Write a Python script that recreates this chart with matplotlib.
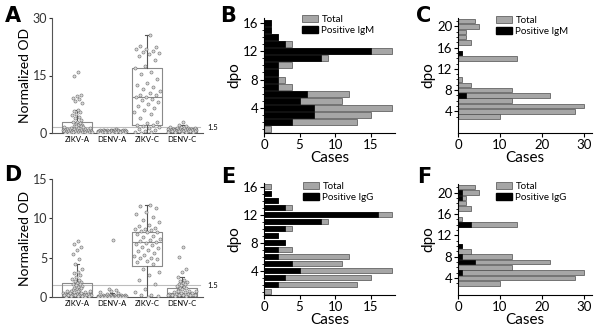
import numpy as np
import matplotlib
matplotlib.use("Agg")
import matplotlib.pyplot as plt
from matplotlib.patches import Patch

plt.rcParams['font.family'] = ['Lato', 'DejaVu Sans']

# Box/scatter panels (A: IgM, D: IgG)
GROUPS = ["ZIKV-A", "DENV-A", "ZIKV-C", "DENV-C"]

zikv_a_igm = [16.0, 15.0, 10.0, 9.6, 9.2, 8.8, 8.3, 7.8, 6.0, 5.8, 5.5, 5.0, 4.6, 4.2,
              3.8, 3.4, 3.0, 2.8, 2.6, 2.4, 2.2, 2.0, 1.9, 1.8, 1.7, 1.6, 1.5, 1.4, 1.3,
              1.2, 1.1, 1.0, 1.0, 0.9, 0.9, 0.8, 0.8, 0.7, 0.7, 0.6, 0.6, 0.5, 0.5, 0.5,
              0.4, 0.4, 0.4, 0.3, 0.3, 0.3, 0.3, 0.2, 0.2, 0.2, 0.2, 0.1, 0.1, 0.1, 0.1, 0.0]
denv_a_igm = [1.0, 0.9, 0.9, 0.8, 0.8, 0.8, 0.7, 0.7, 0.7, 0.7, 0.6, 0.6, 0.6, 0.6, 0.6,
              0.5, 0.5, 0.5, 0.5, 0.5, 0.5, 0.4, 0.4, 0.4, 0.4, 0.4, 0.4, 0.3, 0.3, 0.3,
              0.3, 0.3, 0.2, 0.2, 0.2, 0.2, 0.1, 0.1, 0.1]
zikv_c_igm = [25.5, 22.8, 22.5, 22.0, 21.8, 21.5, 21.2, 21.0, 20.5, 20.0, 19.0, 17.5,
              17.0, 16.0, 15.5, 14.0, 13.0, 12.5, 12.0, 11.5, 11.0, 10.5, 10.0, 9.8, 9.5,
              9.3, 9.0, 8.5, 8.0, 7.5, 7.0, 6.5, 6.0, 5.5, 5.0, 4.0, 3.0, 2.5, 2.2, 2.0,
              1.8, 1.5, 1.2, 1.0, 0.8, 0.5, 0.3, 0.2, 0.1]
denv_c_igm = [3.0, 2.0, 1.8, 1.6, 1.5, 1.4, 1.3, 1.2, 1.2, 1.1, 1.1, 1.0, 1.0, 1.0, 0.9,
              0.9, 0.9, 0.8, 0.8, 0.8, 0.8, 0.7, 0.7, 0.7, 0.6, 0.6, 0.6, 0.5, 0.5, 0.5,
              0.4, 0.4, 0.4, 0.3, 0.3, 0.2, 0.2, 0.1]

zikv_a_igg = [7.1, 6.8, 6.3, 6.0, 5.5, 4.8, 4.2, 3.6, 3.2, 3.0, 2.8, 2.5, 2.3, 2.1, 2.0,
              1.9, 1.8, 1.7, 1.6, 1.5, 1.4, 1.3, 1.2, 1.1, 1.0, 0.9, 0.9, 0.8, 0.8, 0.7,
              0.7, 0.6, 0.6, 0.5, 0.5, 0.5, 0.4, 0.4, 0.4, 0.3, 0.3, 0.3, 0.3, 0.2, 0.2,
              0.2, 0.2, 0.1, 0.1, 0.1, 0.1, 0.0, 0.0]
denv_a_igg = [7.2, 1.0, 0.9, 0.7, 0.6, 0.5, 0.4, 0.3, 0.3, 0.2, 0.2, 0.2, 0.15, 0.15,
              0.15, 0.12, 0.12, 0.12, 0.1, 0.1, 0.1, 0.1, 0.1, 0.1, 0.08, 0.08, 0.08,
              0.08, 0.06, 0.06, 0.06, 0.05, 0.05, 0.05, 0.04, 0.04, 0.03, 0.02]
zikv_c_igg = [11.7, 11.6, 11.3, 10.8, 10.5, 10.2, 9.8, 9.5, 9.2, 9.0, 8.8, 8.7, 8.6, 8.5,
              8.4, 8.3, 8.2, 8.0, 7.8, 7.6, 7.4, 7.2, 7.1, 7.0, 6.9, 6.8, 6.6, 6.4, 6.2,
              6.0, 5.8, 5.6, 5.4, 5.2, 5.0, 5.0, 4.8, 4.6, 4.5, 4.2, 3.5, 3.2, 2.8, 2.2,
              1.6, 1.0, 0.6, 0.3, 0.2, 0.1, 0.0]
denv_c_igg = [6.3, 5.1, 3.6, 3.2, 2.5, 2.1, 2.0, 1.9, 1.8, 1.7, 1.6, 1.5, 1.4, 1.3, 1.2,
              1.1, 1.0, 0.9, 0.8, 0.8, 0.7, 0.6, 0.6, 0.5, 0.5, 0.4, 0.4, 0.4, 0.3, 0.3,
              0.3, 0.2, 0.2, 0.2, 0.1, 0.1]

# box stats: q1, median, q3, whisker low, whisker high
igm_q1 = [0.3, 0.2, 2.0, 0.2]
igm_med = [0.9, 0.5, 9.3, 0.6]
igm_q3 = [2.8, 0.8, 17.0, 1.2]
igm_lo = [0.0, 0.1, 0.1, 0.1]
igm_hi = [6.0, 1.0, 25.5, 2.0]

igg_q1 = [0.1, 0.05, 3.9, 0.1]
igg_med = [0.5, 0.1, 7.0, 0.5]
igg_q3 = [1.8, 0.2, 8.3, 1.2]
igg_lo = [0.0, 0.02, 0.0, 0.1]
igg_hi = [4.2, 0.5, 11.7, 2.5]

CUTOFF = 1.5

# Bar panels: cases per dpo
dpo_bd = list(range(1, 17))
total_b = [1, 13, 15, 18, 11, 12, 4, 3, 2, 4, 9, 18, 4, 2, 1, 1]
igm_b = [0, 4, 7, 7, 5, 6, 2, 2, 2, 2, 8, 15, 3, 2, 1, 1]
total_e = [1, 13, 15, 18, 11, 12, 4, 3, 2, 4, 9, 18, 4, 2, 1, 1]
igg_e = [0, 2, 3, 5, 4, 2, 2, 3, 2, 3, 8, 16, 3, 2, 1, 0]

dpo_cf = list(range(3, 22))
total_c = [10, 28, 30, 13, 22, 13, 3, 1, 0, 0, 0, 14, 1, 0, 3, 2, 2, 5, 4]
igm_c = [0, 0, 0, 0, 2, 0, 0, 0, 0, 0, 0, 0, 1, 0, 0, 0, 0, 0, 0]
total_f = [10, 28, 30, 13, 22, 13, 3, 1, 0, 0, 0, 14, 1, 0, 3, 2, 2, 5, 4]
igg_f = [0, 0, 1, 0, 4, 1, 0, 1, 0, 0, 0, 3, 0, 0, 0, 0, 1, 1, 0]

W, H = 600, 333
fig = plt.figure(figsize=(6, 3.33), dpi=100)


def ax_px(left, top, right, bottom):
    return fig.add_axes([left / W, 1 - bottom / H, (right - left) / W, (bottom - top) / H])


def scatter_panel(ax, groups, q1, med, q3, lo, hi, ymax, yticks):
    stats = []
    for i in range(4):
        stats.append(dict(q1=q1[i], med=med[i], q3=q3[i], whislo=lo[i], whishi=hi[i], fliers=[]))
    ax.bxp(stats, positions=range(4), widths=0.85, showfliers=False,
           boxprops=dict(color='#8a8a8a', lw=0.8), medianprops=dict(color='#8a8a8a', lw=0.8),
           whiskerprops=dict(color='#555555', lw=0.8), capprops=dict(color='#555555', lw=0.8),
           capwidths=0.12)
    phi = 0.6180339887
    for gi, vals in enumerate(groups):
        vals = np.asarray(vals, dtype=float)
        n = len(vals)
        xs = []
        for k, v in enumerate(vals):
            frac = ((k + 1) * phi) % 1.0 - 0.5
            if gi == 2:
                spread = 0.75
            elif v < ymax * 0.06:
                spread = 0.85
            else:
                spread = 0.3
            xs.append(gi + frac * spread)
        ax.scatter(xs, vals, s=5, facecolor='#d9d9d9', edgecolor='#6e6e6e', lw=0.4, zorder=3)
    ax.axhline(CUTOFF, xmin=0, xmax=0.98, color='#bdbdbd', lw=0.8, zorder=1)
    ax.text(1.03, CUTOFF, "1.5", transform=ax.get_yaxis_transform(), fontsize=5.5,
            va='center', ha='left')
    ax.set_xlim(-0.72, 3.6)
    ax.set_ylim(0, ymax)
    ax.set_yticks(yticks)
    ax.set_xticks(range(4))
    ax.set_xticklabels(GROUPS, fontsize=5.5)
    ax.tick_params(axis='x', length=0, pad=2)
    ax.tick_params(axis='y', labelsize=9, length=2.5, width=0.8, pad=1, colors='#333333')
    for s in ['top', 'right']:
        ax.spines[s].set_visible(False)
    ax.spines['left'].set_color('#555555')
    ax.spines['bottom'].set_color('#555555')
    ax.set_ylabel("Normalized OD", fontsize=10, labelpad=1)


def bar_panel(ax, dpo, total, pos, label, xmax, xticks, ylim, yticks, legend_xy):
    ax.barh(dpo, total, height=0.85, color='#a6a6a6', edgecolor='#4d4d4d', lw=0.5)
    ax.barh(dpo, pos, height=0.85, color='black', edgecolor='black', lw=0.5)
    ax.set_xlim(0, xmax)
    ax.set_ylim(*ylim)
    ax.set_xticks(xticks)
    ax.set_yticks(yticks)
    ax.set_yticks(dpo, minor=True)
    ax.tick_params(axis='both', labelsize=9.5, length=3, width=0.8, pad=1)
    ax.tick_params(axis='y', which='minor', length=1.5, width=0.6)
    for s in ['top', 'right']:
        ax.spines[s].set_visible(False)
    ax.set_xlabel("Cases", fontsize=11, labelpad=0)
    ax.set_ylabel("dpo", fontsize=11, labelpad=1)
    handles = [Patch(facecolor='#a6a6a6', edgecolor='#4d4d4d', lw=0.5, label='Total'),
               Patch(facecolor='black', edgecolor='black', label=label)]
    ax.legend(handles=handles, loc='upper left', frameon=False, fontsize=7,
              bbox_to_anchor=(legend_xy[0] / W, 1 - legend_xy[1] / H),
              bbox_transform=fig.transFigure, handlelength=1.6, handleheight=0.8,
              handletextpad=0.4, labelspacing=0.15, borderpad=0, borderaxespad=0)


axA = ax_px(52, 18, 203, 133)
scatter_panel(axA, [zikv_a_igm, denv_a_igm, zikv_c_igm, denv_c_igm],
              igm_q1, igm_med, igm_q3, igm_lo, igm_hi, 30, [0, 15, 30])
axD = ax_px(52, 179, 203, 297)
scatter_panel(axD, [zikv_a_igg, denv_a_igg, zikv_c_igg, denv_c_igg],
              igg_q1, igg_med, igg_q3, igg_lo, igg_hi, 15, [0, 5, 10, 15])

axB = ax_px(264, 18, 395, 133)
bar_panel(axB, dpo_bd, total_b, igm_b, "Positive IgM", 18.4, [0, 5, 10, 15],
          (0.45, 16.7), [4, 8, 12, 16], (302, 15))
axC = ax_px(458, 18, 592, 133)
bar_panel(axC, dpo_cf, total_c, igm_c, "Positive IgM", 32, [0, 10, 20, 30],
          (-0.1, 21.6), [4, 8, 12, 16, 20], (496, 16))
axE = ax_px(264, 183, 395, 295)
bar_panel(axE, dpo_bd, total_e, igg_e, "Positive IgG", 18.4, [0, 5, 10, 15],
          (0.5, 16.5), [4, 8, 12, 16], (303, 182))
axF = ax_px(458, 184, 592, 295)
bar_panel(axF, dpo_cf, total_f, igg_f, "Positive IgG", 32, [0, 10, 20, 30],
          (0.8, 21.6), [4, 8, 12, 16, 20], (496, 182))

for letter, x, y in [("A", 13, 16), ("B", 228, 16), ("C", 424, 16),
                     ("D", 13, 175), ("E", 228, 177), ("F", 424, 177)]:
    fig.text(x / W, 1 - y / H, letter, fontsize=15, fontweight='bold',
             ha='center', va='center', family=['DejaVu Sans'])

fig.savefig("out.png", dpi=100)
